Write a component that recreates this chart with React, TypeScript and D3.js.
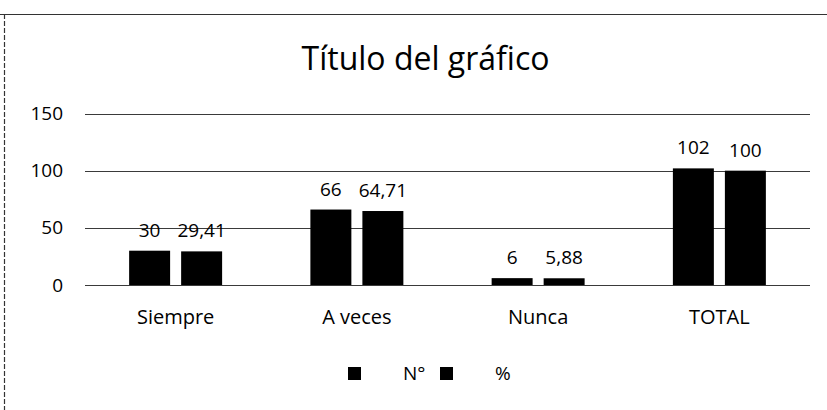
import { useEffect, useRef } from 'react'
import * as d3 from 'd3'

const categories = ['Siempre', 'A veces', 'Nunca', 'TOTAL']
const seriesNames = ['N°', '%']
const countValues = [30, 66, 6, 102]
const percentValues = [29.41, 64.71, 5.88, 100]
const yTicks = [0, 50, 100, 150]
const chartTitle = 'Título del gráfico'

const W = 827
const H = 410
const FONT = '"Open Sans", "Noto Sans", sans-serif'

export default function App() {
  const svgRef = useRef<SVGSVGElement>(null)

  useEffect(() => {
    if (!svgRef.current) return
    const svg = d3.select(svgRef.current)
    svg.selectAll('*').remove()

    const plot = { left: 85, right: 810, top: 113.5, bottom: 285 }

    const data = categories.map((c, i) => ({
      category: c,
      values: [countValues[i], percentValues[i]]
    }))

    const x0 = d3
      .scaleBand<string>()
      .domain(categories)
      .range([plot.left, plot.right])
      .paddingInner(0.487)
      .paddingOuter(0.2435)

    const x1 = d3
      .scaleBand<number>()
      .domain([0, 1])
      .range([0, x0.bandwidth()])
      .paddingInner(0.212)

    const y = d3.scaleLinear().domain([0, 150]).range([plot.bottom, plot.top])

    // chart frame (scanned look)
    svg.append('line')
      .attr('x1', 0).attr('x2', W).attr('y1', 14.5).attr('y2', 14.5)
      .attr('stroke', '#333').attr('stroke-width', 1.2)
    svg.append('line')
      .attr('x1', 4.5).attr('x2', 4.5).attr('y1', 14).attr('y2', H)
      .attr('stroke', '#333').attr('stroke-width', 1.2)
      .attr('stroke-dasharray', '5 2')

    // title
    svg.append('text')
      .attr('x', 425.5)
      .attr('y', 70)
      .attr('text-anchor', 'middle')
      .style('font-family', FONT)
      .style('font-size', '32px')
      .style('fill', '#000')
      .text(chartTitle)

    // gridlines
    svg.append('g')
      .selectAll('line')
      .data(yTicks)
      .enter()
      .append('line')
      .attr('x1', plot.left)
      .attr('x2', plot.right)
      .attr('y1', d => Math.round(y(d)) + 0.5)
      .attr('y2', d => Math.round(y(d)) + 0.5)
      .attr('stroke', '#3a3a3a')
      .attr('stroke-width', 1.2)

    // y axis labels
    const yAxis = svg.append('g')
      .attr('transform', `translate(${plot.left},0)`)
      .call(d3.axisLeft(y).tickValues(yTicks).tickSize(0).tickPadding(22))
    yAxis.select('.domain').remove()
    yAxis.selectAll('text')
      .style('font-family', FONT)
      .style('font-size', '19px')
      .style('fill', '#000')

    // x axis labels
    const xAxis = svg.append('g')
      .attr('transform', `translate(0,${plot.bottom})`)
      .call(d3.axisBottom(x0).tickSize(0).tickPadding(25))
    xAxis.select('.domain').remove()
    xAxis.selectAll('text')
      .style('font-family', FONT)
      .style('font-size', '20px')
      .style('fill', '#000')

    // bars
    const groups = svg.append('g')
      .selectAll('g')
      .data(data)
      .enter()
      .append('g')
      .attr('transform', d => `translate(${x0(d.category)},0)`)

    groups.selectAll('rect')
      .data(d => d.values.map((v, i) => ({ v, i })))
      .enter()
      .append('rect')
      .attr('x', d => x1(d.i)!)
      .attr('y', d => y(d.v))
      .attr('width', x1.bandwidth())
      .attr('height', d => y(0) - y(d.v))
      .attr('fill', '#000')

    groups.selectAll('text')
      .data(d => d.values.map((v, i) => ({ v, i })))
      .enter()
      .append('text')
      .attr('x', d => x1(d.i)! + x1.bandwidth() / 2)
      .attr('y', d => y(d.v) - 14)
      .attr('text-anchor', 'middle')
      .style('font-family', FONT)
      .style('font-size', '19px')
      .style('fill', '#000')
      .text(d => String(d.v).replace('.', ','))

    // legend
    const legend = svg.append('g')
      .selectAll('g')
      .data(seriesNames)
      .enter()
      .append('g')
      .attr('transform', (d, i) => `translate(${348 + i * 92},367)`)

    legend.append('rect')
      .attr('width', 13)
      .attr('height', 13)
      .attr('fill', '#000')

    legend.append('text')
      .attr('x', 55)
      .attr('y', 13)
      .style('font-family', FONT)
      .style('font-size', '19px')
      .style('fill', '#000')
      .text(d => d)
  }, [])

  return (
    <svg
      ref={svgRef}
      width={W}
      height={H}
      style={{ position: 'absolute', left: 0, top: 0, background: '#fff' }}
    />
  )
}
